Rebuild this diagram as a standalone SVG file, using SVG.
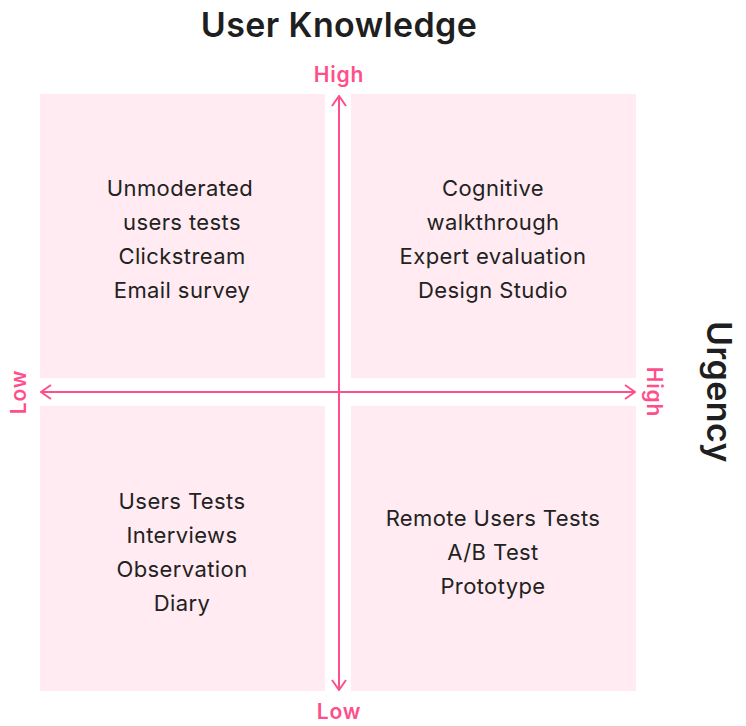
<svg xmlns="http://www.w3.org/2000/svg" width="746" height="726" viewBox="0 0 746 726">
<defs>
<style>
.q{fill:#FFEBF1}
.t{font-family:Inter,"Liberation Sans",sans-serif;font-size:22px;letter-spacing:0.4px;fill:#222;text-anchor:middle}
.ax{font-family:Inter,"Liberation Sans",sans-serif;font-size:21px;letter-spacing:0.8px;font-weight:600;fill:#FF4F8B;text-anchor:middle}
.h{font-family:Inter,"Liberation Sans",sans-serif;font-size:34px;letter-spacing:0.4px;font-weight:600;fill:#1f1f1f;text-anchor:middle}
.ln{stroke:#FF4F8B;stroke-width:2;fill:none}
</style>
<marker id="ah" viewBox="0 0 12 16" refX="11" refY="8" markerWidth="12" markerHeight="16" markerUnits="userSpaceOnUse" orient="auto-start-reverse">
<path d="M1 1 L11 8 L1 15" stroke="#FF4F8B" stroke-width="2" fill="none"/>
</marker>
</defs>
<rect width="746" height="726" fill="#fff"/>
<text class="h" x="339" y="37">User Knowledge</text>
<text class="h" transform="translate(707 392) rotate(90)">Urgency</text>
<g id="q-tl">
<rect class="q" x="40" y="94" width="285" height="284"/>
<text class="t" x="180" y="196">Unmoderated</text>
<text class="t" x="182" y="230">users tests</text>
<text class="t" x="182" y="264">Clickstream</text>
<text class="t" x="182" y="298">Email survey</text>
</g>
<g id="q-tr">
<rect class="q" x="351" y="94" width="285" height="284"/>
<text class="t" x="493" y="196">Cognitive</text>
<text class="t" x="493" y="230">walkthrough</text>
<text class="t" x="493" y="264">Expert evaluation</text>
<text class="t" x="493" y="298">Design Studio</text>
</g>
<g id="q-bl">
<rect class="q" x="40" y="406" width="285" height="285"/>
<text class="t" x="182" y="509">Users Tests</text>
<text class="t" x="182" y="543">Interviews</text>
<text class="t" x="182" y="577">Observation</text>
<text class="t" x="182" y="611">Diary</text>
</g>
<g id="q-br">
<rect class="q" x="351" y="406" width="285" height="285"/>
<text class="t" x="493" y="526">Remote Users Tests</text>
<text class="t" x="493" y="560">A/B Test</text>
<text class="t" x="493" y="594">Prototype</text>
</g>
<g id="connectors">
<line class="ln" x1="339" y1="96" x2="339" y2="690" marker-start="url(#ah)" marker-end="url(#ah)"/>
<line class="ln" x1="41" y1="392" x2="635" y2="392" marker-start="url(#ah)" marker-end="url(#ah)"/>
</g>
<g id="labels">
<text class="ax" x="339" y="82">High</text>
<text class="ax" x="339" y="719">Low</text>
<text class="ax" transform="translate(26 392) rotate(-90)">Low</text>
<text class="ax" transform="translate(647 392) rotate(90)">High</text>
</g>
</svg>
